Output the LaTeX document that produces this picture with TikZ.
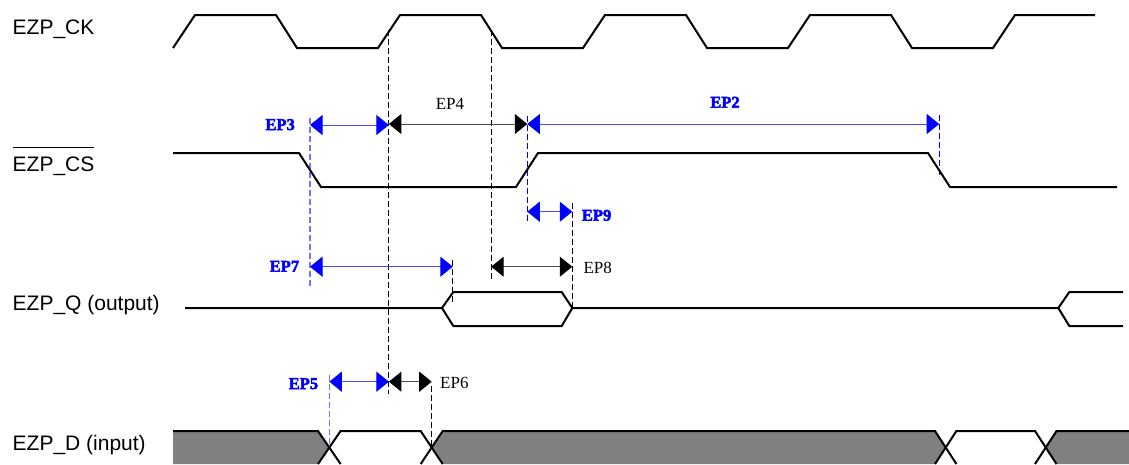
\documentclass[tikz,border=0pt]{standalone}
\usepackage{fontspec}
\setmainfont{Liberation Sans}
\newfontfamily\epserif{Liberation Serif}
\newfontfamily\epheavy{Liberation Serif}[FakeBold=3]
\usetikzlibrary{arrows.meta}
\tikzset{
  wave/.style={line width=2pt, line join=miter},
  siglabel/.style={font=\fontsize{21}{24}\selectfont, inner sep=0pt, anchor=base west},
  blk/.style={font=\epserif\fontsize{17}{20}\selectfont, inner sep=0pt},
  bluelab/.style={font=\epheavy\bfseries\fontsize{16.5}{19}\selectfont, text=blue, inner sep=0pt},
  bdim/.style={line width=1pt, draw=blue!70,
    {Triangle[length=12.5pt,width=20pt,color=blue]}-{Triangle[length=12.5pt,width=20pt,color=blue]}},
  kdim/.style={line width=1pt, draw=black!70,
    {Triangle[length=12.5pt,width=20pt,color=black]}-{Triangle[length=12.5pt,width=20pt,color=black]}},
  kdash/.style={line width=1.1pt, black, dash pattern=on 6pt off 3pt},
  bdash/.style={line width=1.1pt, blue, dash pattern=on 6pt off 3pt},
  ldash/.style={line width=1.1pt, blue!55, dash pattern=on 6pt off 3pt},
  bus/.style={fill=black!50, draw=none},
}
\begin{document}
\begin{tikzpicture}[x=1pt,y=-1pt]
\useasboundingbox (0,0) rectangle (1129,464);
\clip (0,0) rectangle (1129,464);

% signal names
\node[siglabel] (lck) at (12.5,34.3) {EZP\_CK};
\node[siglabel] (lcs) at (12.5,171.7) {EZP\_CS};
\draw[line width=1.6pt] (12.5,147.3) -- (93.5,147.3);
\node[siglabel] (lq) at (12.5,310.7) {EZP\_Q (output)};
\node[siglabel] (ld) at (12.5,450.7) {EZP\_D (input)};

% EZP_D bus (drawn first)
\fill[bus] (173,431) -- (318,431) -- (329.3,447.5) -- (318,464) -- (173,464) -- cycle;
\fill[bus] (431.7,447.5) -- (442.7,431) -- (935,431) -- (945.7,447.5) -- (935,464) -- (442.7,464) -- cycle;
\fill[bus] (1045.7,447.5) -- (1056.5,431) -- (1135,431) -- (1135,464) -- (1056.5,464) -- cycle;
\draw[wave] (173,431) -- (318,431) -- (340.6,464);
\draw[wave] (318,464) -- (340.6,431) -- (420.7,431) -- (442.7,464);
\draw[wave] (420.7,464) -- (442.7,431) -- (935,431) -- (956.4,464);
\draw[wave] (935,464) -- (956.4,431) -- (1035,431) -- (1056.5,464);
\draw[wave] (1035,464) -- (1056.5,431) -- (1135,431);

% dashed reference lines
\draw[kdash] (388.9,30) -- (388.9,394);
\draw[kdash] (491.2,30) -- (491.2,280);
\draw[ldash] (310,118) -- (310,287);
\draw[bdash] (527.3,116) -- (527.3,223);
\draw[bdash] (939.2,115) -- (939.2,177);
\draw[kdash] (572.3,203) -- (572.3,308);
\draw[kdash] (452.8,260) -- (452.8,305);
\draw[ldash] (329.3,375) -- (329.3,447);
\draw[kdash] (431.7,386) -- (431.7,447);

% EZP_CK
\draw[wave] (173,48) -- (195,15) -- (276,15) -- (297,48) -- (378,48) -- (400,15)
  -- (481,15) -- (502,48) -- (583,48) -- (605,15) -- (686,15) -- (707,48)
  -- (788,48) -- (810,15) -- (891,15) -- (912,48) -- (993,48) -- (1015,15) -- (1095,15);

% EZP_CS
\draw[wave] (173,153) -- (299,153) -- (321,187) -- (516,187) -- (538,153)
  -- (928,153) -- (950,187) -- (1117,187);

% EZP_Q
\draw[wave] (185,308) -- (442,308) -- (453.3,292) -- (561.7,292) -- (572.3,308) -- (1058.3,308)
  -- (1069.3,292) -- (1123,292);
\draw[wave] (442,308) -- (453.3,326) -- (561.7,326) -- (572.3,308);
\draw[wave] (1058.3,308) -- (1069.3,326) -- (1123,326);

% dimension end points
\coordinate (a3l) at (310,125);   \coordinate (a3r) at (388.9,125);
\coordinate (a4l) at (388.9,124); \coordinate (a4r) at (527.3,124);
\coordinate (a2l) at (527.3,124); \coordinate (a2r) at (939.2,124);
\coordinate (a9l) at (527.3,211.7); \coordinate (a9r) at (572.3,211.7);
\coordinate (a7l) at (310,266.7); \coordinate (a7r) at (452.8,266.7);
\coordinate (a8l) at (491.2,266.7); \coordinate (a8r) at (572.3,266.7);
\coordinate (a5l) at (329.3,381.7); \coordinate (a5r) at (388.9,381.7);
\coordinate (a6l) at (388.9,381.7); \coordinate (a6r) at (431.7,381.7);

\draw[kdim] (a4l) -- (a4r);
\draw[bdim] (a3l) -- (a3r);
\draw[bdim] (a2l) -- (a2r);
\draw[bdim] (a9l) -- (a9r);
\draw[bdim] (a7l) -- (a7r);
\draw[kdim] (a8l) -- (a8r);
\draw[kdim] (a6l) -- (a6r);
\draw[bdim] (a5l) -- (a5r);

% labels
\node[bluelab, anchor=base east] (ep3) at (295,130) {EP3};
\node[blk, anchor=base] (ep4) at (450,109.3) {EP4};
\node[bluelab, anchor=base] (ep2) at (725,107.7) {EP2};
\node[bluelab, anchor=base west] (ep9) at (581.7,220.7) {EP9};
\node[bluelab, anchor=base east] (ep7) at (299.3,271.7) {EP7};
\node[blk, anchor=base west] (ep8) at (583.3,273.3) {EP8};
\node[bluelab, anchor=base east] (ep5) at (318.3,389) {EP5};
\node[blk, anchor=base west] (ep6) at (440,388.3) {EP6};
\end{tikzpicture}
\end{document}
